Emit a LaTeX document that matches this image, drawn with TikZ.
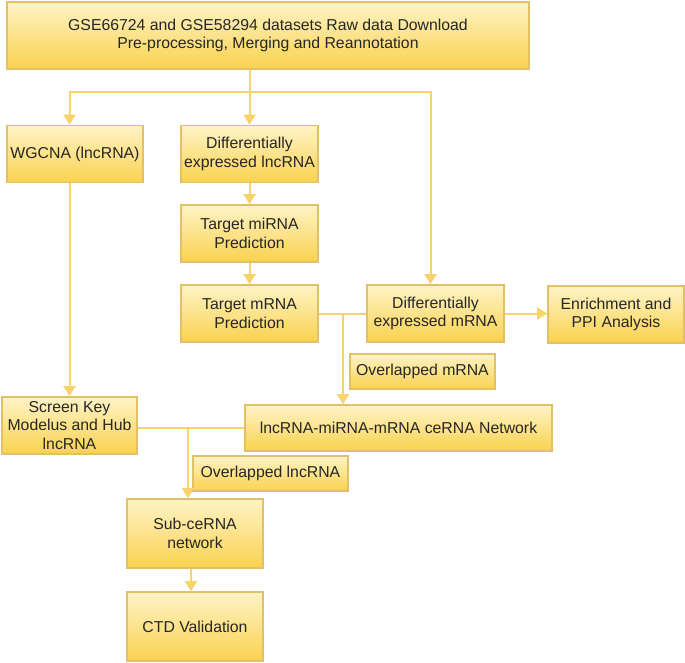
\documentclass[tikz,border=0pt]{standalone}
\usepackage{fontspec}
\setmainfont{Liberation Sans}
\usetikzlibrary{arrows.meta,calc}
\definecolor{bordc}{HTML}{E2C067}
\definecolor{linec}{HTML}{F7D36B}
\definecolor{topc}{HTML}{FFF3C6}
\definecolor{botc}{HTML}{F9D24E}
\definecolor{txtc}{HTML}{262626}
\begin{document}
\begin{tikzpicture}[x=1pt,y=-1pt,
  box/.style={draw=bordc,line width=1.6pt,top color=topc,bottom color=botc,
    text=txtc,align=center,inner sep=0pt,
    font=\fontsize{15.8}{18.6}\selectfont},
  conn/.style={draw=linec,line width=2pt},
  arr/.style={conn,-{Triangle[width=12pt,length=10pt]}}]
\useasboundingbox (0,0) rectangle (685,662);
\node[box,minimum width=522,minimum height=67] (top) at (268,35.5)
  {GSE66724 and GSE58294 datasets Raw data Download\\Pre-processing, Merging and Reannotation};
\node[box,minimum width=136,minimum height=57] (wgcna) at (75,154) {WGCNA (lncRNA)};
\node[box,minimum width=137,minimum height=57] (dlnc) at (249.5,154) {Differentially\\expressed lncRNA};
\node[box,minimum width=137,minimum height=57] (tmi) at (249.5,233.5) {Target miRNA\\Prediction};
\node[box,minimum width=137,minimum height=57] (tm) at (249.5,313.5) {Target mRNA\\Prediction};
\node[box,minimum width=137,minimum height=57] (dm) at (435.5,313.5) {Differentially\\expressed mRNA};
\node[box,minimum width=136,minimum height=57] (enr) at (616,314.5) {Enrichment and\\PPI Analysis};
\node[box,minimum width=145,minimum height=35] (ovm) at (422.5,371.5) {Overlapped mRNA};
\node[box,minimum width=307,minimum height=46] (cer) at (398.5,428) {lncRNA-miRNA-mRNA ceRNA Network};
\node[box,minimum width=135,minimum height=57] (scr) at (69.5,425.5) {Screen Key\\Modelus and Hub\\lncRNA};
\node[box,minimum width=155,minimum height=35] (ovl) at (270.5,473.5) {Overlapped lncRNA};
\node[box,minimum width=136,minimum height=69] (sub) at (195,533.5) {Sub-ceRNA\\network};
\node[box,minimum width=136,minimum height=69] (ctd) at (195,626.5) {CTD Validation};
% connectors
\coordinate (j1) at (249.5,92);
\coordinate (j2) at (343,313.5);
\coordinate (j3) at (188,428);
\draw[conn] (top.south -| dlnc.north) -- (j1);
\draw[arr] (j1) -- (dlnc.north);
\draw[arr] (j1) -- (j1 -| scr.north) -- (wgcna.north -| scr.north);
\draw[arr] (j1) -- ($(j1 -| dm.north)+(-5,0)$) -- ($(dm.north)+(-5,0)$);
\draw[arr] (dlnc) -- (tmi);
\draw[arr] (tmi) -- (tm);
\draw[conn] (tm.east) -- (dm.west);
\draw[arr] (dm.east) -- (enr.west |- dm.east);
\draw[arr] (j2) -- (j2 |- cer.north);
\draw[arr] (wgcna.south -| scr.north) -- (scr.north);
\draw[conn] (scr.east |- cer.west) -- (cer.west);
\draw[arr] (j3) -- (j3 |- sub.north);
\draw[arr] ($(sub.south)+(-4,0)$) -- ($(ctd.north)+(-4,0)$);
\end{tikzpicture}
\end{document}
